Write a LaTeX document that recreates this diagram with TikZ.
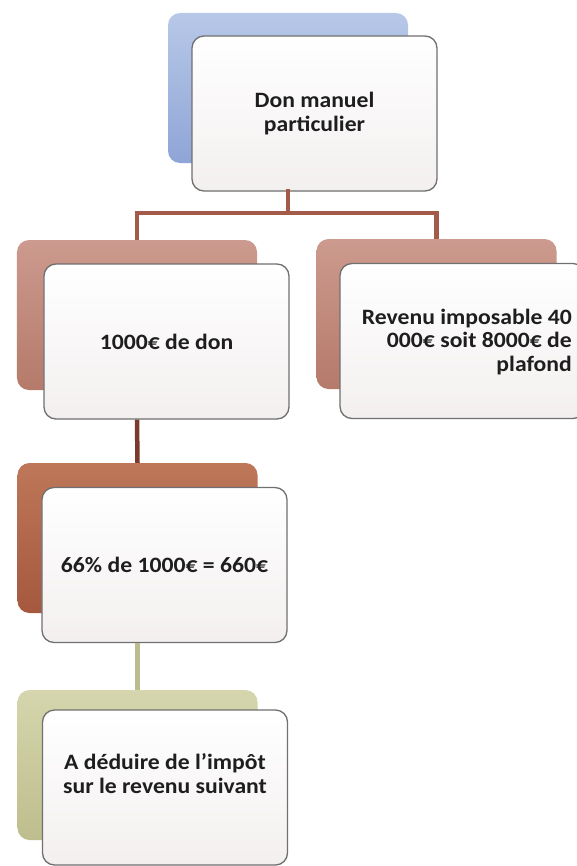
\documentclass[tikz,border=0pt]{standalone}
\usepackage{fontspec}
\setmainfont[FakeStretch=1.08]{Carlito}
\definecolor{frameG}{HTML}{707070}
\definecolor{frontB}{HTML}{F3EFEF}
\definecolor{txtC}{HTML}{1E1E1E}
\definecolor{blueT}{HTML}{B7C8E8}
\definecolor{blueB}{HTML}{8FA5D6}
\definecolor{roseT}{HTML}{CC9A8E}
\definecolor{roseB}{HTML}{B57A6A}
\definecolor{siennaT}{HTML}{BE7759}
\definecolor{siennaB}{HTML}{A5583E}
\definecolor{oliveT}{HTML}{D6D6AE}
\definecolor{oliveB}{HTML}{BDBD8D}
\definecolor{connA}{HTML}{A35A48}
\definecolor{connB}{HTML}{7A3B2B}
\definecolor{connC}{HTML}{BDBC8F}
\begin{document}
\begin{tikzpicture}[x=1bp,y=-1bp,
  back/.style={rounded corners=12bp, minimum width=240bp, minimum height=150bp, inner sep=0pt},
  front/.style={draw=frameG, line width=1.3bp, rounded corners=12bp, minimum width=245bp,
    minimum height=155bp, inner sep=0pt, top color=white, bottom color=frontB,
    font=\fontsize{22}{25}\selectfont\bfseries, text=txtC, align=center},
  txt/.style={font=\fontsize{22}{24}\selectfont\bfseries, text=txtC, align=center, inner sep=0pt},
  conn/.style={line width=4.5bp, line cap=butt}
]
\useasboundingbox (0,0) rectangle (577,866);
\clip (0,0) rectangle (577,866);
\fill[white] (0,0) rectangle (577,866);

\coordinate (j) at (288,213);
\node[back, top color=blueT, bottom color=blueB] (b0) at (288,88) {};
\node[back, top color=roseT, bottom color=roseB] (b1) at (137,315) {};
\node[back, top color=roseT, bottom color=roseB] (b2) at (436.5,314) {};
\node[back, top color=siennaT, bottom color=siennaB] (b3) at (137.5,538) {};
\node[back, top color=oliveT, bottom color=oliveB] (b4) at (137.5,765) {};

\node[front] (f0) at (314.5,113.5) {Don manuel\\particulier};
\node[front] (f1) at (166.5,341.5) {1000€ de don};
\node[front] (f2) at (462.5,341) {};
\node[txt, align=right, anchor=east] (t2) at (572,342) {Revenu imposable 40\\000€ soit 8000€ de\\plafond};
\node[front] (f3) at (164.5,565) {66\% de 1000€ = 660€};
\node[front] (f4) at (165,787.5) {};
\node[txt] (t4) at ([yshift=14bp]f4.center) {A déduire de l’impôt\\sur le revenu suivant};

\draw[conn, connA, line cap=rect] (b0.center |- f0.south) -- (j);
\draw[conn, connA] (b1.north) |- (j);
\draw[conn, connA] (b2.north) |- (j);
\draw[conn, connB] (b1.center |- f1.south) -- (b3.north);
\draw[conn, connC] (b3.center |- f3.south) -- (b4.north);
\end{tikzpicture}
\end{document}
